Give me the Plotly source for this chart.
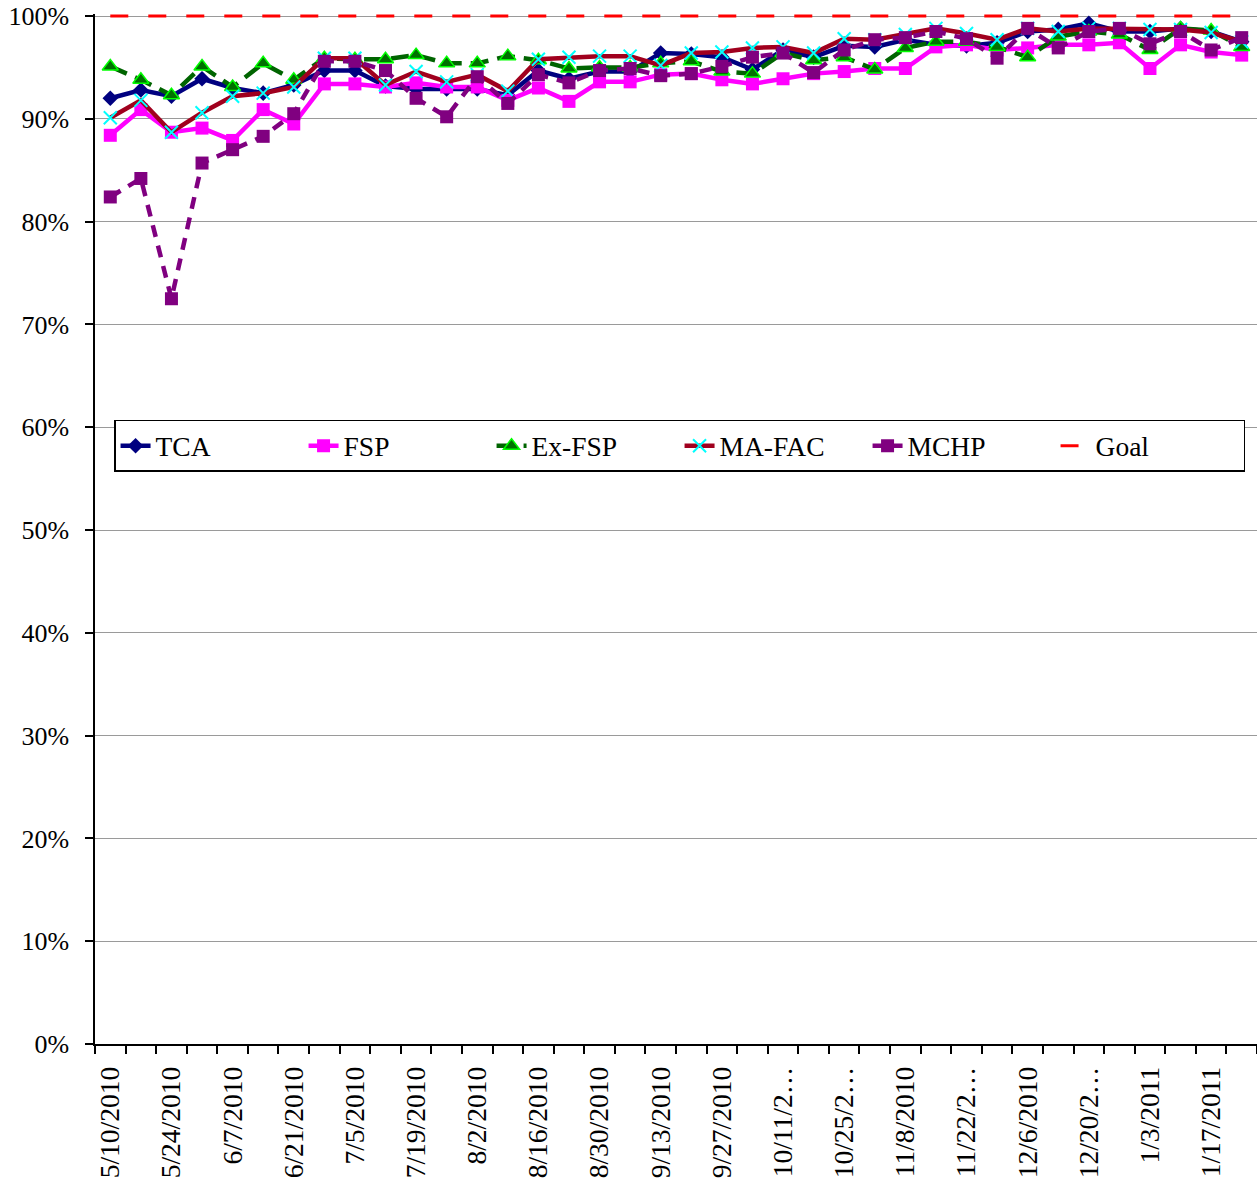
import plotly.graph_objects as go

categories = [
    "5/10/2010", "5/17/2010", "5/24/2010", "5/31/2010", "6/7/2010", "6/14/2010",
    "6/21/2010", "6/28/2010", "7/5/2010", "7/12/2010", "7/19/2010", "7/26/2010",
    "8/2/2010", "8/9/2010", "8/16/2010", "8/23/2010", "8/30/2010", "9/6/2010",
    "9/13/2010", "9/20/2010", "9/27/2010", "10/4/2010", "10/11/2010", "10/18/2010",
    "10/25/2010", "11/1/2010", "11/8/2010", "11/15/2010", "11/22/2010", "11/29/2010",
    "12/6/2010", "12/13/2010", "12/20/2010", "12/27/2010", "1/3/2011", "1/10/2011",
    "1/17/2011", "1/24/2011",
]

tick_labels = [
    "5/10/2010", "", "5/24/2010", "", "6/7/2010", "", "6/21/2010", "", "7/5/2010", "",
    "7/19/2010", "", "8/2/2010", "", "8/16/2010", "", "8/30/2010", "", "9/13/2010", "",
    "9/27/2010", "", "10/11/2…", "", "10/25/2…", "", "11/8/2010", "", "11/22/2…", "",
    "12/6/2010", "", "12/20/2…", "", "1/3/2011", "", "1/17/2011", "",
]

tca = [92.0, 92.8, 92.2, 93.9, 93.0, 92.5, 93.3, 94.7, 94.7, 93.2, 92.9, 92.9, 92.9,
       92.3, 94.7, 93.9, 94.6, 94.6, 96.4, 96.3, 96.0, 94.8, 96.7, 96.0, 97.1, 97.0,
       97.7, 97.2, 97.1, 97.4, 98.5, 98.7, 99.3, 98.5, 98.5, 98.8, 98.5, 97.5]

fsp = [88.4, 90.9, 88.7, 89.1, 87.9, 90.9, 89.5, 93.4, 93.4, 93.1, 93.5, 93.1, 93.1,
       91.8, 93.0, 91.7, 93.6, 93.6, 94.3, 94.4, 93.8, 93.4, 93.9, 94.4, 94.6, 94.9,
       94.9, 97.0, 97.2, 96.7, 96.9, 97.2, 97.2, 97.4, 94.9, 97.2, 96.5, 96.2]

ex_fsp = [95.1, 93.8, 92.3, 95.1, 93.1, 95.4, 93.8, 95.9, 95.8, 95.8, 96.2, 95.4, 95.4,
          96.1, 95.7, 94.9, 95.0, 95.0, 95.4, 95.6, 94.6, 94.4, 96.4, 95.7, 96.0, 94.8,
          96.9, 97.5, 97.5, 97.0, 96.0, 98.0, 98.5, 98.2, 96.7, 98.8, 98.6, 97.0]

ma_fac = [90.1, 91.8, 88.7, 90.6, 92.2, 92.5, 93.1, 95.9, 95.9, 93.3, 94.6, 93.6, 94.3,
          92.7, 95.8, 96.0, 96.1, 96.1, 95.2, 96.4, 96.5, 96.9, 97.0, 96.4, 97.8, 97.7,
          98.2, 98.8, 98.3, 97.7, 98.8, 98.5, 98.8, 98.8, 98.7, 98.7, 98.4, 97.5]

mchp = [82.4, 84.2, 72.5, 85.7, 87.0, 88.3, 90.5, 95.6, 95.6, 94.7, 92.0, 90.2, 94.1,
        91.5, 94.3, 93.5, 94.7, 94.9, 94.2, 94.4, 95.1, 96.0, 96.4, 94.5, 96.7, 97.7,
        97.9, 98.5, 97.8, 95.9, 98.8, 96.9, 98.5, 98.8, 97.3, 98.5, 96.7, 97.9]

goal = [100.0] * len(categories)

y_ticks = [0, 10, 20, 30, 40, 50, 60, 70, 80, 90, 100]
y_tick_labels = ["0%", "10%", "20%", "30%", "40%", "50%", "60%", "70%", "80%", "90%", "100%"]

FONT = "Liberation Serif"

fig = go.Figure()

fig.add_trace(go.Scatter(
    x=categories, y=tca, name="TCA", mode="lines+markers",
    line=dict(color="#000080", width=4.5),
    marker=dict(symbol="diamond", size=12, color="#000080"),
))
fig.add_trace(go.Scatter(
    x=categories, y=fsp, name="FSP", mode="lines+markers",
    line=dict(color="#FF00FF", width=4.5),
    marker=dict(symbol="square", size=13, color="#FF00FF"),
))
fig.add_trace(go.Scatter(
    x=categories, y=ex_fsp, name="Ex-FSP", mode="lines+markers",
    line=dict(color="#006400", width=4.5, dash="18px,9px"),
    marker=dict(symbol="triangle-up", size=14, color="#007000",
                line=dict(color="#00FF00", width=1.5)),
))
fig.add_trace(go.Scatter(
    x=categories, y=ma_fac, name="MA-FAC", mode="lines+markers",
    line=dict(color="#A0001E", width=4.5),
    marker=dict(symbol="x-thin", size=13, color="#00FFFF",
                line=dict(color="#00FFFF", width=2)),
))
fig.add_trace(go.Scatter(
    x=categories, y=mchp, name="MCHP", mode="lines+markers",
    line=dict(color="#800080", width=4.5, dash="12px,9px"),
    marker=dict(symbol="square", size=13, color="#800080"),
))
fig.add_trace(go.Scatter(
    x=categories, y=goal, name="Goal", mode="lines",
    line=dict(color="#FF0000", width=3, dash="18px,20px"),
))

fig.update_layout(
    width=1257, height=1194,
    margin=dict(l=95, r=0, t=14, b=150),
    paper_bgcolor="white", plot_bgcolor="white",
    font=dict(family=FONT, size=27, color="black"),
    showlegend=True,
    legend=dict(
        orientation="h", x=0.0164, y=0.606, xanchor="left", yanchor="top",
        bgcolor="white", bordercolor="black", borderwidth=1.5,
        font=dict(family=FONT, size=27.5, color="black"),
        entrywidth=143, entrywidthmode="pixels",
    ),
)

fig.update_xaxes(
    type="category",
    tickmode="array", tickvals=categories, ticktext=tick_labels,
    tickson="boundaries",
    ticks="outside", ticklen=8, tickcolor="black", tickwidth=1.5,
    tickangle=-90, ticklabelstandoff=10,
    showline=True, linecolor="black", linewidth=1.5,
    showgrid=False, zeroline=False, automargin=False,
    range=[-0.5, len(categories) - 0.5],
    tickfont=dict(family=FONT, size=27.5, color="black"),
)

fig.update_yaxes(
    range=[0, 100.2],
    tickmode="array", tickvals=y_ticks, ticktext=y_tick_labels,
    ticks="outside", ticklen=8, tickcolor="black", tickwidth=1.5,
    ticklabelstandoff=11,
    showline=True, linecolor="black", linewidth=1.5,
    showgrid=True, gridcolor="#9a9a9a", gridwidth=1.2,
    zeroline=False, automargin=False,
    tickfont=dict(family=FONT, size=26, color="black"),
)

fig.write_html("out.html", config={"displayModeBar": False},
               post_script="document.body.style.margin='0';")
